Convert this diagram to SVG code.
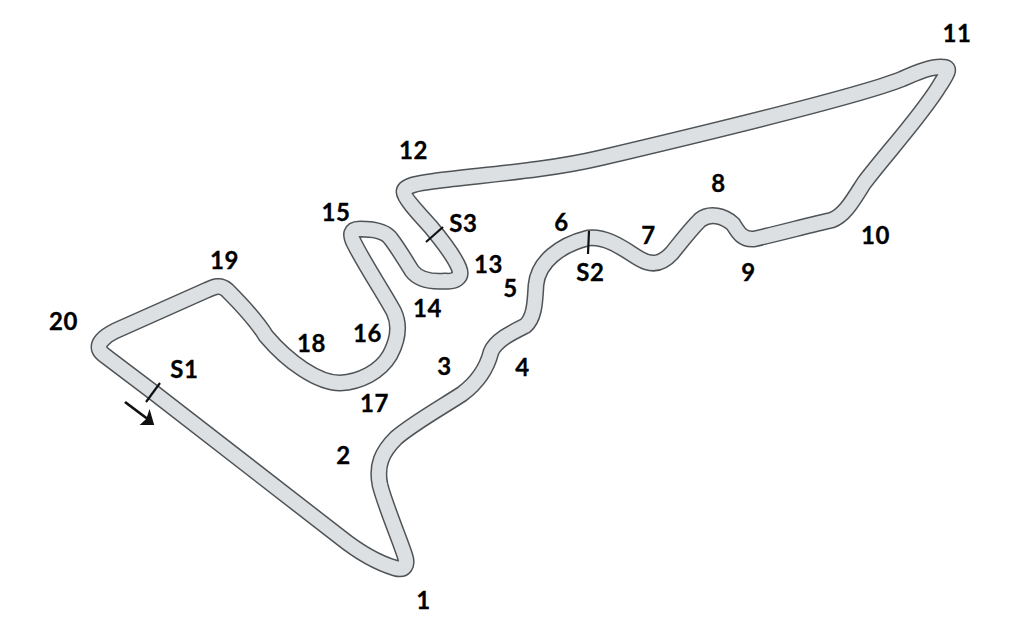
<svg xmlns="http://www.w3.org/2000/svg" width="1024" height="644" viewBox="0 0 1024 644">
  <style>
    .casing { fill: none; stroke: #4f5356; stroke-width: 17; stroke-linejoin: round; }
    .surface { fill: none; stroke: #dce0e3; stroke-width: 14; stroke-linejoin: round; }
    .tick { stroke: #111; stroke-width: 2.2; fill: none; }
    text { font-family: "Lato", "Liberation Sans", sans-serif; font-weight: 700; font-size: 24px; fill: #000; stroke: #000; stroke-width: 0.3; letter-spacing: 0.6px; text-anchor: middle; }
  </style>
  <defs>
    <path id="track" d="M99 347 C99 352 104 355 108 358 L153 392 L340 537 C355 549 375 562 395 568 C405 571 408 565 405 556 C400 540 385 505 380 485 C376 465 382 452 396 438 C412 424 442 407 462 394 C478 382 487 368 491 352 C496 340 513 332 525 326 C535 318 535 300 536 285 C538 262 560 245 588 238 C608 236 625 250 640 259 C652 266 662 264 672 253 C680 243 690 230 700 220 C710 212 724 216 733 224 C738 232 742 240 754 239 C780 233 810 225 832 220 C845 215 853 200 864 183 C885 155 922 115 940 85 C947 74 952 67 942 67 C932 66 917 72 902 79 C870 92 740 125 600 158 C545 171 480 175 435 181 C420 183 404 185 404 192 C404 198 420 215 430 226 C440 238 455 258 459 268 C463 278 455 282 445 281 C430 282 418 279 412 271 C405 260 398 248 391 239 C385 230 370 229 360 229 C350 229 350 235 354 243 C365 265 385 295 394 312 C400 325 398 340 390 355 C380 372 360 382 340 383 C318 383 288 362 266 336 C258 323 242 305 227 290 C220 284 214 287 207 290 L115 331 C105 336 99 342 99 347 Z"/>
  </defs>
  <!-- circuit outline: dark casing under a lighter surface -->
  <use href="#track" class="casing"/>
  <use href="#track" class="surface"/>
  <!-- sector boundaries -->
  <g id="sectors">
    <line class="tick" x1="146" y1="402" x2="160" y2="383"/>
    <line class="tick" x1="589" y1="231" x2="588" y2="254"/>
    <line class="tick" x1="426" y1="242" x2="443" y2="227"/>
  </g>
  <!-- direction of travel -->
  <g id="direction">
    <line x1="125" y1="402" x2="149" y2="420" stroke="#111" stroke-width="2.8"/>
    <path d="M153 424 L142 424 L147 419.5 L149.5 412 Z" fill="#111" stroke="#111" stroke-width="1.8" stroke-linejoin="miter"/>
  </g>
  <g id="labels">
    <text x="423.5" y="609">1</text>
    <text x="343.5" y="464">2</text>
    <text x="444.5" y="375">3</text>
    <text x="522.5" y="376">4</text>
    <text x="510.5" y="297">5</text>
    <text x="561.5" y="231">6</text>
    <text x="648.5" y="244">7</text>
    <text x="718.5" y="192">8</text>
    <text x="748.5" y="281">9</text>
    <text x="875.5" y="244">10</text>
    <text x="957" y="42">11</text>
    <text x="413.5" y="159">12</text>
    <text x="488.5" y="273">13</text>
    <text x="427.5" y="317">14</text>
    <text x="336" y="221">15</text>
    <text x="367.5" y="342">16</text>
    <text x="374.5" y="412">17</text>
    <text x="311.5" y="352">18</text>
    <text x="224.5" y="269">19</text>
    <text x="63.5" y="330">20</text>
    <text x="184.5" y="378">S1</text>
    <text x="590.5" y="281">S2</text>
    <text x="463.5" y="232">S3</text>
  </g>
</svg>
